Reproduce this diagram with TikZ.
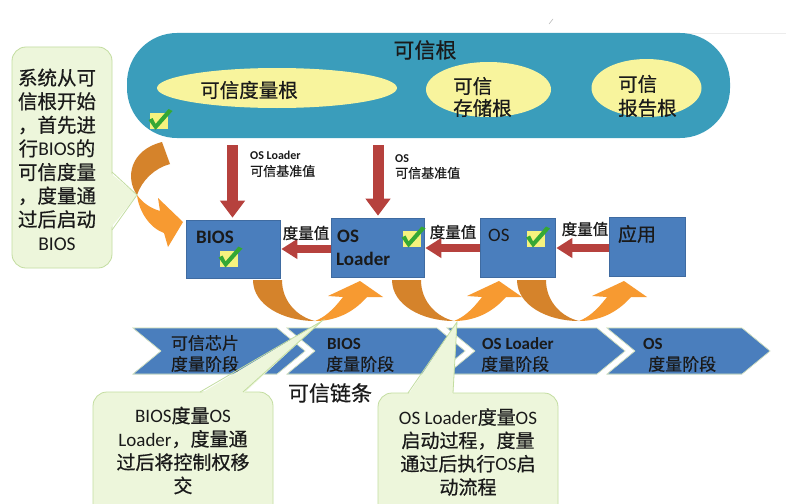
\documentclass[tikz,border=0pt]{standalone}
\usepackage{fontspec}
\setmainfont{Carlito}
\newfontfamily\cjk{Noto Sans CJK SC}[FakeBold=0.6]
\usetikzlibrary{arrows.meta,shapes.geometric}
\definecolor{teal1}{HTML}{3A9DBB}
\definecolor{ylw}{HTML}{F8F49D}
\definecolor{boxblue}{HTML}{4A7EBD}
\definecolor{redar}{HTML}{B6413D}
\definecolor{orgdark}{HTML}{D5832B}
\definecolor{orglight}{HTML}{F79A31}
\definecolor{cfill}{HTML}{EDF6DB}
\definecolor{cline}{HTML}{C3DDA0}
\definecolor{chkgreen}{HTML}{35A834}
\definecolor{chkyel}{HTML}{F6F27E}
\definecolor{chevline}{HTML}{D9E6C4}
\definecolor{txtc}{HTML}{1A1A1A}
\newcommand\fs[2]{\fontsize{#1}{#2}\selectfont}
\begin{document}
\begin{tikzpicture}[x=1pt,y=-1pt,
  blk/.style={fill=boxblue, draw=boxblue!85!black, line width=0.6pt, inner sep=0pt},
  ell/.style={ellipse, fill=ylw, inner sep=0pt},
  redv/.style={draw=redar, line width=11pt, -{Triangle[length=17pt,width=24pt]}},
  redh/.style={draw=redar, line width=8pt, -{Triangle[length=16pt,width=19pt]}},
  txt/.style={inner sep=0pt, text=txtc},
  chev/.style={fill=boxblue, draw=chevline, line width=0.6pt},
  chk/.pic={
    \fill[chkyel] (-9,-8) rectangle (9,8);
    \fill[chkgreen] (-10,-1) -- (-6,-3) -- (-3,3) -- (10,-12) -- (14,-10) -- (-3,9) -- cycle;
  },
  uarr/.pic={
    \fill[orgdark] (0,0) .. controls (0,25) and (30,41) .. (62,41)
       .. controls (45,37) and (29,22) .. (29,0) -- cycle;
    \fill[orglight] (62,41) .. controls (82,41) and (100,33) .. (114,17)
       -- (130,17) -- (107,1) -- (75,16) -- (90,17)
       .. controls (80,30) and (72,37) .. (62,41) -- cycle;
  }
]
\useasboundingbox (0,0) rectangle (786,503);
\fill[white] (0,0) rectangle (786,503);
\draw[gray!15, line width=0.6pt] (420,33) -- (786,33);
\draw[gray!60, line width=0.5pt] (549,24) -- (553,19);

% trusted root
\node[fill=teal1, rounded corners=50pt, minimum width=603pt, minimum height=105pt, inner sep=0pt] (root) at (428.5,85.5) {};
\node[txt, font=\cjk\fs{21}{24}] (rtitle) at (425,50) {可信根};
\node[ell, minimum width=240pt, minimum height=40pt] (e1) at (277,88) {};
\node[txt, font=\cjk\fs{19.5}{22}] (e1t) at (249,90) {可信度量根};
\node[ell, minimum width=125pt, minimum height=55pt] (e2) at (488.5,89.5) {};
\node[txt, font=\cjk\fs{19.5}{22}, align=left, anchor=west] (e2t) at (453,97) {可信\\存储根};
\node[ell, minimum width=110pt, minimum height=58pt] (e3) at (646.5,88) {};
\node[txt, font=\cjk\fs{19.5}{24}, align=left, anchor=west] (e3t) at (618,96) {可信\\报告根};
\pic at (158.5,121) {chk};

% boxes
\node[blk, minimum width=94pt, minimum height=58pt] (bios) at (233,249) {};
\node[blk, minimum width=93pt, minimum height=59pt] (osl) at (377.5,247.5) {};
\node[blk, minimum width=75pt, minimum height=59pt] (os) at (517.5,247.5) {};
\node[blk, minimum width=76pt, minimum height=59pt] (app) at (647,246.5) {};
\node[txt, anchor=base west, font=\bfseries\fs{19}{22}] (biost) at (196,243) {BIOS};
\node[txt, anchor=base west, font=\bfseries\fs{19}{22}] (oslt1) at (337,242) {OS};
\node[txt, anchor=base west, font=\bfseries\fs{19}{22}] (oslt2) at (336,265) {Loader};
\node[txt, anchor=base west, font=\fs{19}{22}] (ost) at (488,241) {OS};
\node[txt, font=\cjk\fs{19}{22}] (appt) at (637,234) {应用};
\pic at (228.5,258.5) {chk};
\pic at (411.5,238.5) {chk};
\pic at (536,238.5) {chk};

% red vertical arrows
\coordinate (v1) at (232.5,145);
\coordinate (v2) at (378,145);
\draw[redv, shorten >=2pt] (v1) -- (v1 |- bios.north);
\draw[redv, shorten >=2pt] (v2) -- (v2 |- osl.north);
\node[txt, anchor=base west, font=\bfseries\fs{12}{14}] (l1a) at (250,159) {OS Loader};
\node[txt, anchor=west, font=\cjk\fs{13}{15}] (l1b) at (250,171) {可信基准值};
\node[txt, anchor=base west, font=\bfseries\fs{12}{14}] (l2a) at (395,162) {OS};
\node[txt, anchor=west, font=\cjk\fs{13}{15}] (l2b) at (395,173) {可信基准值};

% red horizontal arrows
\draw[redh, shorten >=1pt] (osl.west |- 0,249) -- (bios.east |- 0,249);
\draw[redh, shorten >=1pt] (os.west |- 0,248) -- (osl.east |- 0,248);
\draw[redh, shorten >=1pt] (app.west |- 0,248) -- (os.east |- 0,248);
\node[txt, font=\cjk\fs{15.5}{18}] (m1) at (306,233) {度量值};
\node[txt, font=\cjk\fs{15.5}{18}] (m2) at (453,232) {度量值};
\node[txt, font=\cjk\fs{15.5}{18}] (m3) at (585,229) {度量值};

% orange arrows
\pic at (253,280) {uarr};
\pic at (392,280) {uarr};
\pic at (517,280) {uarr};
\fill[orgdark] (162,142) -- (170,164) .. controls (155,168) and (142,180) .. (137,195)
   .. controls (125,178) and (130,150) .. (162,142) -- cycle;
\fill[orglight] (137,195) .. controls (143,203) and (150,208) .. (160,211)
   -- (158,198) -- (183,222) -- (168,247) -- (164,233)
   .. controls (150,228) and (139,212) .. (137,195) -- cycle;

% chevrons
\fill[chev] (133,328) -- (277,328) -- (305,351) -- (277,374) -- (133,374) -- (161,351) -- cycle;
\fill[chev] (287,328) -- (437,328) -- (465,351) -- (437,374) -- (287,374) -- (315,351) -- cycle;
\fill[chev] (447,328) -- (597,328) -- (625,351) -- (597,374) -- (447,374) -- (475,351) -- cycle;
\fill[chev] (607,328) -- (742,328) -- (770,351) -- (742,374) -- (607,374) -- (635,351) -- cycle;
\draw[chev] (133,328) -- (277,328) -- (305,351) -- (277,374) -- (133,374) -- (161,351) -- cycle;
\draw[chev] (287,328) -- (437,328) -- (465,351) -- (437,374) -- (287,374) -- (315,351) -- cycle;
\draw[chev] (447,328) -- (597,328) -- (625,351) -- (597,374) -- (447,374) -- (475,351) -- cycle;
\draw[chev] (607,328) -- (742,328) -- (770,351) -- (742,374) -- (607,374) -- (635,351) -- cycle;
\node[txt, font=\cjk\fs{17}{21}, align=center] (c1) at (205,353.5) {可信芯片\\度量阶段};
\node[txt, anchor=base west, font=\bfseries\fs{17}{20}] (c2a) at (327,349) {BIOS};
\node[txt, anchor=west, font=\cjk\fs{17}{20}] (c2b) at (326,364) {度量阶段};
\node[txt, anchor=base west, font=\bfseries\fs{17}{20}] (c3a) at (482,349) {OS Loader};
\node[txt, anchor=west, font=\cjk\fs{17}{20}] (c3b) at (481,364) {度量阶段};
\node[txt, anchor=base west, font=\bfseries\fs{17}{20}] (c4a) at (643,349) {OS};
\node[txt, anchor=west, font=\cjk\fs{17}{20}] (c4b) at (648,364) {度量阶段};
\node[txt, font=\cjk\fs{21}{24}] (chain) at (330,393) {可信链条};

% left callout
\fill[cfill, rounded corners=14pt] (12,47) rectangle (112,268);
\draw[cline, line width=0.8pt, rounded corners=14pt] (12,47) rectangle (112,268);
\fill[cfill] (109,172) -- (137,195) -- (109,230) -- cycle;
\draw[cline, line width=0.8pt] (112,172) -- (137,195) -- (112,230);
\node[txt, font=\cjk\fs{19.5}{23.6}, align=center] (lc) at (57,159.5)
  {系统从可\\信根开始\\，首先进\\行{\rmfamily BIOS}的\\可信度量\\，度量通\\过后启动\\{\rmfamily BIOS}};

% callout A
\fill[cfill, rounded corners=14pt] (93,392) rectangle (273,520);
\draw[cline, line width=0.8pt, rounded corners=14pt] (93,392) rectangle (273,520);
\fill[cfill] (200,394) -- (322,321) -- (243,394) -- cycle;
\draw[cline, line width=0.8pt] (200,392) -- (322,321) -- (243,392);
\node[txt, font=\fs{19}{23.3}, align=center] (ca) at (183,450.5)
  {BIOS{\cjk 度量}OS\\Loader{\cjk ，度量通}\\{\cjk 过后将控制权移}\\{\cjk 交}};

% callout B
\fill[cfill, rounded corners=14pt] (378,393) rectangle (558,520);
\draw[cline, line width=0.8pt, rounded corners=14pt] (378,393) rectangle (558,520);
\fill[cfill] (408,395) -- (457,322) -- (453,395) -- cycle;
\draw[cline, line width=0.8pt] (408,393) -- (457,322) -- (453,393);
\node[txt, font=\fs{19}{23.3}, align=center] (cb) at (468,452)
  {OS Loader{\cjk 度量}OS\\{\cjk 启动过程，度量}\\{\cjk 通过后执行}OS{\cjk 启}\\{\cjk 动流程}};
\end{tikzpicture}
\end{document}
